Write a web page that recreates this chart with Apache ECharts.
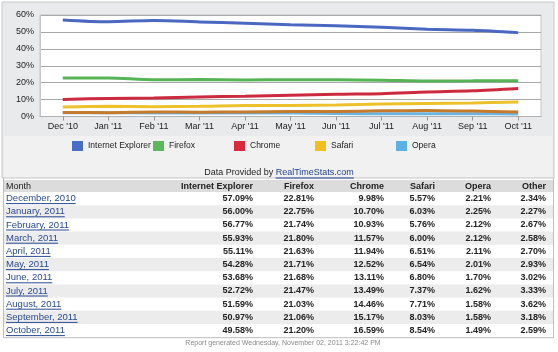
<!DOCTYPE html>
<html><head><meta charset="utf-8">
<script src="https://cdn.jsdelivr.net/npm/echarts@6/dist/echarts.min.js"></script>
<style>html,body{margin:0;padding:0;background:#fff}#c{width:558px;height:352px}</style>
</head><body><div id="c"></div>
<script>
const categories = ["Dec '10","Jan '11","Feb '11","Mar '11","Apr '11","May '11","Jun '11","Jul '11","Aug '11","Sep '11","Oct '11"];
const monthNames = ["December, 2010","January, 2011","February, 2011","March, 2011","April, 2011","May, 2011","June, 2011","July, 2011","August, 2011","September, 2011","October, 2011"];
const ieValues = [57.09,56.00,56.77,55.93,55.11,54.28,53.68,52.72,51.59,50.97,49.58];
const firefoxValues = [22.81,22.75,21.74,21.80,21.63,21.71,21.68,21.47,21.03,21.06,21.20];
const chromeValues = [9.98,10.70,10.93,11.57,11.94,12.52,13.11,13.49,14.46,15.17,16.59];
const safariValues = [5.57,6.03,5.76,6.00,6.51,6.54,6.80,7.37,7.71,8.03,8.54];
const operaValues = [2.21,2.25,2.12,2.12,2.11,2.01,1.70,1.62,1.58,1.58,1.49];
const otherValues = [2.34,2.27,2.67,2.58,2.70,2.93,3.02,3.33,3.62,3.18,2.59];
const tableHeaders = ["Month","Internet Explorer","Firefox","Chrome","Safari","Opera","Other"];
const legendNames = ["Internet Explorer","Firefox","Chrome","Safari","Opera"];
const providerText = "Data Provided by ";
const providerLink = "RealTimeStats.com";
const footerText = "Report generated Wednesday, November 02, 2011 3:22:42 PM";

const FONT = '"Liberation Sans", Arial, sans-serif';
const colors = {ie:'#4a68c2', ff:'#56b356', chrome:'#cc2a3e', safari:'#ecc12c', opera:'#6ab4e2', other:'#c57a2c'};
const legendColors = ['#4a6cc6','#5cb85c','#d92a3c','#f2c01e','#5cb0e4'];

const chart = echarts.init(document.getElementById('c'));
const ctx = document.createElement('canvas').getContext('2d');
function tw(text, font){ ctx.font = font; return ctx.measureText(text).width; }

const graphic = [];
graphic.push({type:'rect', z:-10, shape:{x:0,y:0,width:558,height:352}, style:{fill:'#ffffff'}, silent:true});
graphic.push({type:'rect', z:-9, shape:{x:2,y:2,width:552,height:176}, style:{fill:'#e9eaeb', stroke:'#c8c8c8', lineWidth:1}, silent:true});
graphic.push({type:'rect', z:-8, shape:{x:4,y:136,width:548,height:41}, style:{fill:'#f1f1f1'}, silent:true});

const pFont = '9px ' + FONT;
const pW1 = tw(providerText, pFont), pW2 = tw(providerLink, pFont);
const pX = 279 - (pW1 + pW2) / 2;
graphic.push({type:'text', x:pX, y:173, style:{text:providerText, font:pFont, fill:'#222', verticalAlign:'middle', align:'left'}});
graphic.push({type:'text', x:pX + pW1, y:173, style:{text:providerLink, font:pFont, fill:'#1f3f8f', verticalAlign:'middle', align:'left'}});
graphic.push({type:'line', shape:{x1:pX + pW1, y1:178, x2:pX + pW1 + pW2, y2:178}, style:{stroke:'#1f3f8f', lineWidth:1}});

const tableLeft = 3, tableRight = 554, headTop = 180, headH = 12, rowH = 13.2;
const colRight = [null, 253, 314, 384, 435, 491, 546];
graphic.push({type:'rect', shape:{x:tableLeft, y:headTop, width:tableRight-tableLeft, height:headH}, style:{fill:'#dcdcdc'}});
const hFont = 'bold 9px ' + FONT;
tableHeaders.forEach((h, j) => {
  graphic.push({type:'text', x: j === 0 ? 6 : colRight[j], y: headTop + headH/2 + 0.5,
    style:{text:h, font: j === 0 ? '9px ' + FONT : hFont, fill:'#222', align: j === 0 ? 'left' : 'right', verticalAlign:'middle'}});
});
const cols = [ieValues, firefoxValues, chromeValues, safariValues, operaValues, otherValues];
const mFont = '9.5px ' + FONT, vFont = 'bold 9px ' + FONT;
monthNames.forEach((m, i) => {
  const top = headTop + headH + i * rowH;
  if (i % 2 === 1) graphic.push({type:'rect', shape:{x:tableLeft, y:top, width:tableRight-tableLeft, height:rowH}, style:{fill:'#ececec'}});
  const cy = top + rowH/2;
  graphic.push({type:'text', x:6, y:cy, style:{text:m, font:mFont, fill:'#2a4a92', align:'left', verticalAlign:'middle'}});
  graphic.push({type:'line', shape:{x1:6, y1:cy+5, x2:6 + tw(m, mFont), y2:cy+5}, style:{stroke:'#2a4a92', lineWidth:1}});
  cols.forEach((arr, j) => {
    graphic.push({type:'text', x:colRight[j+1], y:cy, style:{text:arr[i].toFixed(2) + '%', font:vFont, fill:'#222', align:'right', verticalAlign:'middle'}});
  });
});
const tableBottom = headTop + headH + monthNames.length * rowH;
graphic.push({type:'polyline', shape:{points:[[tableLeft+0.5,178],[tableLeft+0.5,tableBottom+0.5],[tableRight-0.5,tableBottom+0.5],[tableRight-0.5,178]]}, style:{stroke:'#bdbdbd', lineWidth:1, fill:null}});
graphic.push({type:'text', x:283, y:tableBottom + 6, style:{text:footerText, font:'7px ' + FONT, fill:'#8a8a8a', align:'center', verticalAlign:'middle'}});

function lineSeries(name, data, color){
  return {name, type:'line', data, smooth:0.3, showSymbol:false, symbol:'none',
    lineStyle:{color, width:3}, itemStyle:{color}, z:3};
}

const legends = legendNames.map((n, k) => ({
  data:[{name:n, icon:'rect', itemStyle:{color:legendColors[k]}}],
  left: 72 + k * 81, top:141, padding:0, itemWidth:11, itemHeight:10,
  textStyle:{fontSize:8.5, color:'#222', fontFamily:FONT}
}));

chart.setOption({
  animation:false,
  textStyle:{fontFamily:FONT},
  graphic,
  grid:{left:40, right:17, top:15, bottom:235.5, show:true, backgroundColor:'#ffffff', borderColor:'#c4c4c4', borderWidth:1},
  legend: legends,
  xAxis:{type:'category', data:categories, boundaryGap:true,
    axisLine:{show:true, lineStyle:{color:'#b0b0b0'}},
    axisTick:{show:true, alignWithLabel:true, length:4, lineStyle:{color:'#999'}},
    axisLabel:{fontSize:9, color:'#222', margin:6}},
  yAxis:{type:'value', min:0, max:60, interval:10,
    axisLine:{show:true, lineStyle:{color:'#c8c8c8'}},
    axisTick:{show:false},
    axisLabel:{fontSize:9, color:'#222', formatter:'{value}%', margin:6},
    splitLine:{lineStyle:{color:'#a8a8a8', width:1}}},
  series:[
    lineSeries('Internet Explorer', ieValues, colors.ie),
    lineSeries('Firefox', firefoxValues, colors.ff),
    lineSeries('Chrome', chromeValues, colors.chrome),
    lineSeries('Safari', safariValues, colors.safari),
    lineSeries('Opera', operaValues, colors.opera),
    lineSeries('Other', otherValues, colors.other)
  ]
});
</script></body></html>
